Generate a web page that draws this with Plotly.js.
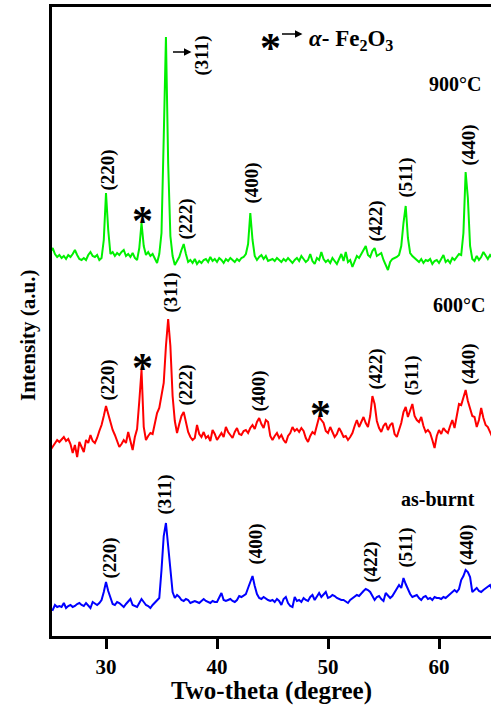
<!DOCTYPE html>
<html><head><meta charset="utf-8">
<script src="https://cdn.plot.ly/plotly-3.0.1.min.js"></script>
<style>html,body{margin:0;padding:0;background:#fff}#chart{width:491px;height:705px}</style>
</head><body><div id="chart"></div>
<script>
// 2-theta grid: 25.0 to 65.0 in 0.2 degree steps
const twoThetaStart = 25, twoThetaStep = 0.2;

// Intensities (a.u.), relative to each pattern's baseline
const int900 = [
  6,10,4,1,3,0,2,-1,3,1,
  4,8,3,-1,-2,0,-2,3,6,2,
  1,3,-2,0,18,65,28,4,6,2,
  5,3,6,8,2,4,1,5,0,-2,
  10,35,12,3,6,2,4,0,-5,4,
  25,120,221,95,22,2,-7,-3,1,8,
  14,4,-4,-2,-5,-1,-6,-3,-5,-2,
  -1,-4,1,-3,-1,-4,0,-2,-5,-1,
  -3,0,-2,-4,-1,-3,0,1,4,14,
  45,18,2,-2,1,3,-1,2,-3,-2,
  -1,-3,0,-2,-4,-1,-3,0,-2,-5,
  -2,0,-3,2,-1,-4,-2,4,-3,-6,
  0,-2,6,-1,-4,-2,-5,0,-3,-6,
  -1,4,-3,6,-4,-2,-9,-3,2,0,
  4,8,12,3,1,7,10,2,4,5,
  -2,-8,-12,-4,-1,0,1,3,12,35,
  52,20,5,2,0,-2,-4,-1,-5,-2,
  -3,-1,-6,-3,-2,-5,-1,3,-4,-2,
  -5,0,-2,1,4,3,25,86,60,12,
  -1,-3,2,-2,1,6,2,-1,3,0,
  2
];
const int600 = [
  -4,-1,2,6,4,7,9,5,7,2,
  -7,1,-11,4,-2,-6,6,3,11,5,
  3,8,15,21,30,40,32,23,16,11,
  4,-1,2,6,3,14,5,-4,9,17,
  45,76,19,6,10,13,12,22,33,38,
  50,63,100,127,100,50,25,13,22,30,
  34,22,14,9,6,8,21,12,9,14,
  8,10,5,16,12,6,10,13,9,19,
  14,11,8,14,18,12,11,15,16,13,
  18,21,17,24,28,22,18,26,24,10,
  6,10,13,8,11,6,3,10,13,19,
  15,17,14,18,15,8,4,10,14,12,
  20,29,26,23,15,13,19,14,9,12,
  18,14,9,10,6,9,13,20,26,19,
  24,29,23,19,30,50,42,25,18,14,
  20,23,16,21,23,12,9,15,23,34,
  39,29,35,42,30,26,24,29,20,14,
  16,13,6,-2,10,16,12,18,15,13,
  20,26,18,30,42,41,48,56,45,36,
  30,29,19,26,38,28,21,19,14,9,
  8
];
const intAsBurnt = [
  -3,-4,1,-1,0,-1,3,-2,0,1,
  -1,0,2,3,1,0,3,1,-2,4,
  2,1,3,6,14,24,15,8,2,1,
  4,3,1,-1,2,5,7,1,0,-1,
  3,7,4,1,0,-2,1,3,6,8,
  36,70,83,60,30,14,8,11,9,6,
  5,7,6,3,4,5,4,3,5,7,
  5,4,3,5,4,4,8,13,6,5,
  6,7,5,4,6,10,9,11,12,18,
  24,30,20,12,8,7,9,7,6,5,
  6,4,7,5,1,7,9,3,0,-1,
  9,5,6,4,8,6,5,9,11,6,
  10,13,9,12,14,8,9,11,10,8,
  7,6,6,4,3,6,8,9,11,10,
  13,15,17,16,14,10,6,9,10,7,
  5,13,10,8,10,14,18,21,18,28,
  22,16,12,9,10,11,8,6,9,10,
  7,8,6,9,8,8,7,9,8,10,
  13,14,16,14,17,26,30,36,34,29,
  14,16,18,15,14,16,18,19,21,16,
  14
];

// vertical stacking offsets of the three patterns
const seriesNames = ['900°C', '600°C', 'as-burnt'];
const seriesOffsets = [378, 190, 30];
const seriesColors = ['#00f000', '#ff0000', '#0000ff'];

// peak labels: [text, 2theta, height]
const labels900 = [['(220)',30.14,466],['(222)',37.25,417],['(311)',38.69,581],['(400)',43.11,453],['(422)',54.28,415],['(511)',57.07,459],['(440)',62.66,491]];
const labels600 = [['(220)',30.14,256],['(311)',35.90,344],['(222)',37.25,251],['(400)',43.74,245],['(422)',54.28,267],['(511)',57.61,261],['(440)',62.66,272]];
const labelsBurnt = [['(220)',30.32,78],['(311)',35.27,141],['(400)',43.47,92],['(422)',53.83,74],['(511)',57.07,89],['(440)',62.48,91]];
const starMarks = [[33.29,425],[33.29,278],[49.32,231]];
const sampleLabels = [['900°C',63.92,552],['600°C',64.28,331],['as-burnt',63.38,137]];

const twoTheta = int900.map((_, i) => +(twoThetaStart + i * twoThetaStep).toFixed(1));
const allInts = [int900, int600, intAsBurnt];

const traces = allInts.map((arr, k) => ({
  x: twoTheta,
  y: arr.map(v => v + seriesOffsets[k]),
  type: 'scatter', mode: 'lines', name: seriesNames[k],
  line: {color: seriesColors[k], width: 2}
}));

const serif = 'Liberation Serif, Times New Roman, serif';
const ann = [];
[labels900, labels600, labelsBurnt].forEach(list => list.forEach(([t, x, y]) => ann.push({
  x, y, xref: 'x', yref: 'y', text: '<b>' + t + '</b>', textangle: -90, showarrow: false,
  font: {family: serif, size: 19, color: '#000'}
})));
starMarks.forEach(([x, y]) => ann.push({
  x, y, xref: 'x', yref: 'y', text: '<b>*</b>', showarrow: false, yshift: -10,
  font: {family: serif, size: 42, color: '#000'}
}));
sampleLabels.forEach(([t, x, y]) => ann.push({
  x, y, xref: 'x', yref: 'y', text: '<b>' + t + '</b>', showarrow: false, xanchor: 'right',
  font: {family: serif, size: 20, color: '#000'}
}));
// arrow pointing to (311) of 900°C
ann.push({x: 37.70, y: 584, ax: 35.90, ay: 584, axref: 'x', ayref: 'y', xref: 'x', yref: 'y',
  text: '', showarrow: true, arrowhead: 2, arrowsize: 1, arrowwidth: 1.5, arrowcolor: '#000'});
// phase key
ann.push({x: 44.85, y: 598, xref: 'x', yref: 'y', text: '<b>*</b>', showarrow: false, yshift: -10,
  font: {family: serif, size: 42, color: '#000'}});
ann.push({x: 47.70, y: 602, ax: 45.72, ay: 602, axref: 'x', ayref: 'y', xref: 'x', yref: 'y',
  text: '', showarrow: true, arrowhead: 2, arrowsize: 1, arrowwidth: 1.5, arrowcolor: '#000'});
ann.push({x: 48.15, y: 596, xref: 'x', yref: 'y', xanchor: 'left', showarrow: false,
  text: '<b><i>α</i>- Fe<sub>2</sub>O<sub>3</sub></b>', font: {family: serif, size: 23, color: '#000'}});
// y-axis title, placed to match the original
ann.push({x: -0.055, y: 0.4785, xref: 'paper', yref: 'paper', xanchor: 'center', yanchor: 'middle',
  textangle: -90, showarrow: false,
  text: '<b>Intensity (a.u.)</b>', font: {family: serif, size: 21, color: '#000'}});

const layout = {
  width: 491, height: 705,
  margin: {l: 52, r: 0, t: 7, b: 69},
  paper_bgcolor: '#fff', plot_bgcolor: '#fff',
  showlegend: false,
  xaxis: {
    range: [25.135, 64.685], tickvals: [30, 40, 50, 60], ticks: 'outside', ticklen: 10, tickwidth: 3, tickcolor: '#000',
    showline: true, linewidth: 3, linecolor: '#000', mirror: true, showgrid: false, zeroline: false,
    tickfont: {family: serif, size: 21, color: '#000', weight: 'bold'},
    title: {text: '<b>Two-theta (degree)</b>', font: {family: serif, size: 25, color: '#000'}, standoff: 6}
  },
  yaxis: {
    range: [0, 629], showticklabels: false, ticks: '', showgrid: false, zeroline: false,
    showline: true, linewidth: 3, linecolor: '#000'
  },
  annotations: ann
};
Plotly.newPlot('chart', traces, layout, {displayModeBar: false, staticPlot: true});
</script></body></html>
